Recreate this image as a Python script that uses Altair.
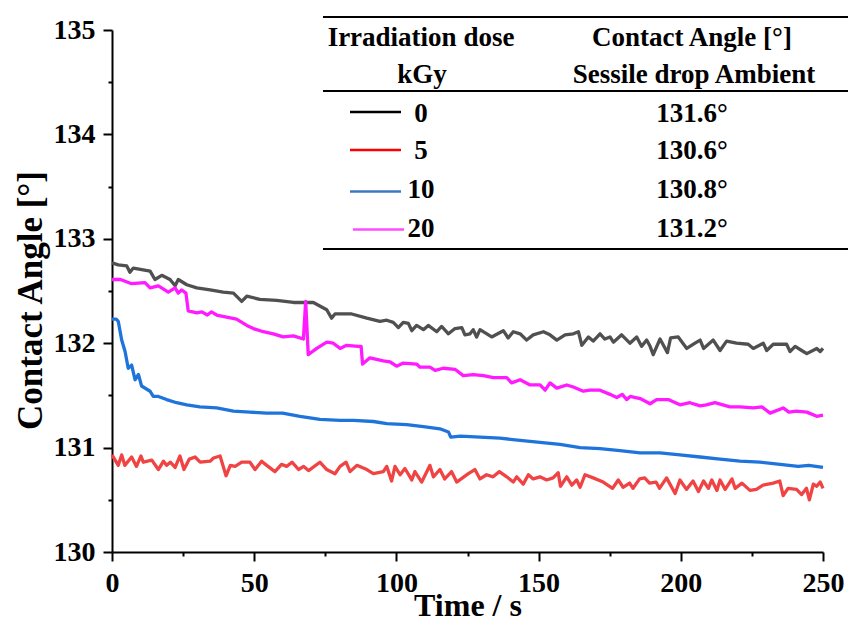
import altair as alt
import pandas as pd

# ---------------- data ----------------
doses = ["0", "5", "10", "20"]
table_values = ["131.6°", "130.6°", "130.8°", "131.2°"]

t_0 = [0, 2.2, 5.2, 6.3, 7.5, 13.4, 15.1, 17.5, 20.4, 22.2, 23.3, 26.3, 29.8, 34.5, 39.1, 42.7,
       45.6, 47.4, 52, 57.9, 63.8, 70.8, 75.5, 77.2, 78.4, 84.3, 89.6, 94.2, 96.6, 98.9, 100.7,
       102.4, 104.2, 105.4, 107.1, 109.5, 111.2, 114.2, 115.9, 118.3, 120.6, 123, 124.1, 125.9,
       127, 128.2, 129.4, 133.5, 137.6, 139.3, 141.1, 143.5, 145.8, 148.1, 151.7, 154, 156.4,
       159.3, 162.2, 164, 165.2, 167.5, 169.2, 171.6, 173.3, 175.1, 176.3, 179.2, 182.1, 184.5,
       186.2, 188, 189.2, 190.3, 192.7, 195.3, 196.4, 199.1, 202.1, 205, 206.8, 208, 211.4,
       213.8, 216.1, 219.6, 223.7, 225.5, 229, 230.2, 232.5, 237.2, 238.4, 240.2, 242.5, 244.3,
       247.8, 249, 250]
y_0 = [132.77, 132.75, 132.74, 132.68, 132.72, 132.69, 132.61, 132.65, 132.61, 132.55, 132.61,
       132.56, 132.53, 132.51, 132.49, 132.48, 132.40, 132.45, 132.42, 132.41, 132.39, 132.39,
       132.32, 132.24, 132.28, 132.28, 132.24, 132.21, 132.22, 132.20, 132.15, 132.20, 132.19,
       132.12, 132.17, 132.13, 132.17, 132.11, 132.16, 132.09, 132.14, 132.15, 132.08, 132.09,
       132.13, 132.06, 132.13, 132.06, 132.12, 132.05, 132.11, 132.09, 132.03, 132.08, 132.11,
       132.08, 132.03, 132.08, 132.09, 132.11, 131.98, 132.06, 132.02, 132.09, 132.04, 132.06,
       132.01, 132.08, 132.00, 132.06, 131.97, 132.03, 131.97, 131.89, 132.04, 131.91, 132.05,
       132.06, 131.95, 132.00, 132.03, 131.95, 132.03, 131.93, 132.02, 132.00, 131.99, 131.95,
       132.00, 131.93, 131.99, 131.99, 131.92, 131.97, 131.93, 131.90, 131.95, 131.92, 131.95]

t_5 = [0, 2.2, 3.4, 4.5, 6.9, 8.6, 10.2, 11, 14, 16.3, 18.1, 19.2, 20.5, 22.2, 23.9, 25.3, 27.2,
       29.2, 31, 34.5, 35.7, 38, 40.1, 41.6, 43.3, 45.6, 48.5, 50.3, 52.6, 54.4, 57.3, 59.6, 61.4,
       63.3, 65.6, 67.4, 69.1, 73.1, 75.5, 78.4, 80.2, 82.3, 83.7, 86.1, 89.6, 91.9, 95.4, 96.6,
       98.3, 99.5, 101.3, 103, 105.4, 106.5, 108.9, 111.8, 113, 115.3, 117, 119.4, 121.2, 125.3,
       127.6, 129.4, 131.7, 134, 136.2, 138.8, 141.1, 142.3, 144.6, 146.4, 148.1, 150.5, 152.8,
       155.1, 156.9, 157.7, 159.9, 161.7, 163.4, 164.6, 166.3, 169.2, 172.7, 176, 178, 179.7,
       182, 183.2, 185.5, 187.3, 189, 191.3, 192.5, 195, 198, 199.7, 202, 204.3, 206.2, 208,
       209.7, 210.9, 212.7, 213.8, 215.6, 218, 219.1, 221.5, 224.3, 226.6, 228.9, 232.5, 234.8,
       236, 237.7, 240.7, 242.5, 244.2, 245.2, 246.6, 247.8, 249, 250]
y_5 = [130.93, 130.83, 130.93, 130.83, 130.91, 130.82, 130.92, 130.86, 130.88, 130.79, 130.87,
       130.83, 130.86, 130.81, 130.92, 130.79, 130.89, 130.91, 130.86, 130.87, 130.90, 130.92,
       130.73, 130.83, 130.82, 130.86, 130.86, 130.79, 130.87, 130.83, 130.77, 130.84, 130.82,
       130.86, 130.79, 130.82, 130.78, 130.86, 130.79, 130.75, 130.82, 130.86, 130.77, 130.83,
       130.79, 130.75, 130.77, 130.82, 130.68, 130.82, 130.74, 130.80, 130.69, 130.77, 130.67,
       130.83, 130.72, 130.79, 130.70, 130.77, 130.67, 130.75, 130.79, 130.70, 130.74, 130.72,
       130.77, 130.72, 130.67, 130.72, 130.65, 130.74, 130.70, 130.72, 130.69, 130.71, 130.76,
       130.63, 130.72, 130.64, 130.69, 130.62, 130.74, 130.71, 130.67, 130.61, 130.69, 130.62,
       130.66, 130.61, 130.70, 130.71, 130.66, 130.67, 130.61, 130.71, 130.56, 130.69, 130.60,
       130.68, 130.58, 130.68, 130.61, 130.69, 130.59, 130.69, 130.60, 130.70, 130.61, 130.66,
       130.59, 130.60, 130.64, 130.66, 130.68, 130.54, 130.61, 130.60, 130.55, 130.61, 130.50,
       130.65, 130.63, 130.67, 130.61]

t_10 = [0, 1.5, 2.2, 3.4, 4.6, 5.7, 6.9, 8.1, 9.3, 10.4, 13.4, 14.5, 16.3, 19.2, 22.7, 26.3, 30.9,
        36.8, 42.7, 48.5, 54.4, 60, 66.1, 73.1, 80.2, 84.9, 91.9, 96.6, 103.6, 109.5, 115.3,
        118.3, 119.1, 122.6, 129.4, 136.4, 143.5, 150.5, 157.5, 164.6, 171.6, 178.6, 185.7,
        192.7, 199.7, 206.8, 213.8, 220.8, 227.8, 234.9, 241.3, 245, 250]
y_10 = [132.23, 132.23, 132.21, 132.03, 131.92, 131.76, 131.79, 131.65, 131.70, 131.59, 131.54,
        131.49, 131.49, 131.46, 131.43, 131.41, 131.39, 131.38, 131.35, 131.34, 131.33, 131.33,
        131.30, 131.27, 131.26, 131.26, 131.25, 131.23, 131.22, 131.20, 131.18, 131.15, 131.10,
        131.11, 131.10, 131.09, 131.07, 131.05, 131.03, 131.00, 130.99, 130.97, 130.95, 130.95,
        130.93, 130.91, 130.89, 130.87, 130.86, 130.84, 130.82, 130.83, 130.81]

t_20 = [0, 3, 6.9, 11.6, 13.4, 16.3, 19.8, 22.2, 23.3, 24.5, 26, 26.8, 29.8, 31.6, 33.5, 35, 36.8,
        40.3, 43.8, 47.4, 49.7, 53.2, 56.7, 60.2, 63.8, 67.3, 68.1, 69.0, 72, 75.5, 77.8, 80.2,
        82.5, 86.6, 87.6, 88.1, 90.7, 95.4, 97.8, 100.1, 102.4, 107.1, 108.3, 111.8, 113.6, 116.5,
        120.6, 123.5, 127, 130.6, 134.1, 138.8, 140.5, 143.5, 147, 150.5, 152.3, 154, 156.4,
        159.9, 162.2, 165.7, 168, 171.6, 175.1, 177.5, 179.4, 181, 182.2, 185.7, 189.2, 191.5,
        195.6, 199.7, 203.2, 206.8, 209, 212, 217.3, 220.8, 225.5, 228.5, 231.4, 236, 238, 240.7,
        244.3, 247.8, 250]
y_20 = [132.61, 132.61, 132.57, 132.58, 132.53, 132.55, 132.49, 132.53, 132.48, 132.51, 132.48,
        132.31, 132.29, 132.30, 132.27, 132.30, 132.27, 132.25, 132.23, 132.17, 132.14, 132.11,
        132.09, 132.06, 132.07, 132.04, 132.40, 131.89, 131.95, 132.01, 132.00, 131.95, 131.98,
        131.97, 131.97, 131.80, 131.86, 131.83, 131.82, 131.78, 131.81, 131.80, 131.77, 131.77,
        131.74, 131.76, 131.75, 131.69, 131.70, 131.69, 131.67, 131.67, 131.62, 131.65, 131.60,
        131.60, 131.55, 131.62, 131.57, 131.60, 131.58, 131.54, 131.55, 131.55, 131.51, 131.48,
        131.51, 131.46, 131.49, 131.47, 131.42, 131.46, 131.46, 131.41, 131.43, 131.40, 131.41,
        131.43, 131.39, 131.39, 131.38, 131.39, 131.33, 131.38, 131.34, 131.35, 131.34, 131.30,
        131.31]

x_ticks = [0, 25, 50, 75, 100, 125, 150, 175, 200, 225, 250]
y_ticks = [130, 130.5, 131, 131.5, 132, 132.5, 133, 133.5, 134, 134.5, 135]

# ---------------- styles ----------------
line_colors = ["#505050", "#f04343", "#1f74dc", "#ff1aff"]
legend_colors = ["#000000", "#ff0000", "#3b78c2", "#ff4cff"]
FONT = "Liberation Serif"
OX, OY = 112, 30          # plot origin on the page
W, H = 711, 522

rows = []
for d, ts, ys in zip(doses, [t_0, t_5, t_10, t_20], [y_0, y_5, y_10, y_20]):
    for t, v in zip(ts, ys):
        rows.append({"dose": d, "t": t, "angle": v})
df = pd.DataFrame(rows)

lines = alt.Chart(df).mark_line(strokeWidth=3.3, strokeJoin="round").encode(
    x=alt.X("t:Q", scale=alt.Scale(domain=[0, 250], nice=False, zero=False),
            axis=alt.Axis(values=x_ticks, title="Time / s",
                          labelExpr="datum.value % 50 === 0 ? datum.label : ''",
                          tickSize={"condition": {"test": "datum.value % 50 === 0", "value": 9}, "value": 4},
                          labelPadding=8, labelFlush=False, labelOverlap=False,
                          titleFontSize=32, titleY=38)),
    y=alt.Y("angle:Q", scale=alt.Scale(domain=[130, 135], nice=False, zero=False),
            axis=alt.Axis(values=y_ticks, title="Contact Angle [°]",
                          labelExpr="datum.value % 1 === 0 ? format(datum.value, 'd') : ''",
                          tickSize={"condition": {"test": "datum.value % 1 === 0", "value": 9}, "value": 4},
                          labelPadding=8, labelFlush=False, labelOverlap=False,
                          titleX=-64, titleY=270)),
    color=alt.Color("dose:N", scale=alt.Scale(domain=doses, range=line_colors), legend=None),
)

one = pd.DataFrame({"k": [0]})
layers = [lines]

def text(s, x, y, align="center"):
    return alt.Chart(one).mark_text(font=FONT, fontWeight="bold", fontSize=27, align=align,
                                    baseline="alphabetic", color="black").encode(
        x=alt.value(x - OX), y=alt.value(y - OY), text=alt.value(s))

def rule(x1, x2, y, color="black", w=2.0):
    return alt.Chart(one).mark_rule(color=color, strokeWidth=w).encode(
        x=alt.value(x1 - OX), x2=alt.value(x2 - OX), y=alt.value(y - OY))

# table rules
layers += [rule(323, 848, 17), rule(323, 848, 91), rule(323, 848, 249)]
# headers
layers += [text("Irradiation dose", 421, 46), text("kGy", 422, 83),
           text("Contact Angle [°]", 692, 46), text("Sessile drop Ambient", 694, 83)]
# rows
row_base = [122, 159, 198, 237]
line_y = [112, 150, 191.5, 229.5]
line_x = [(350, 401), (350, 401), (350, 401), (353, 404)]
for i, d in enumerate(doses):
    layers.append(rule(line_x[i][0], line_x[i][1], line_y[i], legend_colors[i], 2.6))
    layers.append(text(d, 421, row_base[i]))
    layers.append(text(table_values[i], 692, row_base[i]))

chart = alt.layer(*layers).properties(
    width=W, height=H,
    padding={"left": OX, "top": OY, "right": 848 - OX - W, "bottom": 623 - OY - H},
    autosize=alt.AutoSizeParams(type="none"),
).configure(background="white").configure_view(stroke=None).configure_axis(
    grid=False, domainColor="black", domainWidth=2, tickColor="black", tickWidth=2,
    labelFont=FONT, labelFontWeight="bold", labelFontSize=28, labelColor="black",
    titleFont=FONT, titleFontWeight="bold", titleFontSize=35, titleColor="black",
)

chart.save("out.html", embed_options={"renderer": "svg", "actions": False})
